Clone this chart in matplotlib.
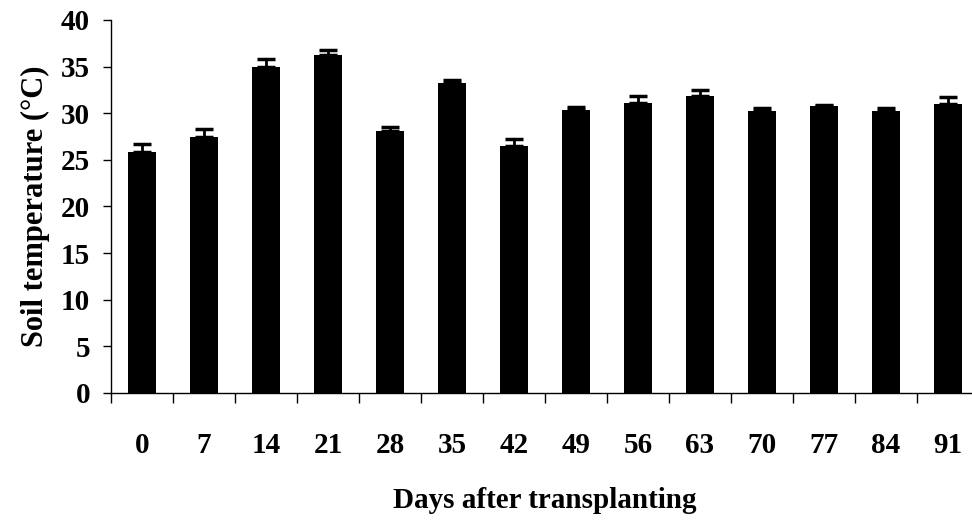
import matplotlib.pyplot as plt
import numpy as np

days = ["0", "7", "14", "21", "28", "35", "42", "49", "56", "63", "70", "77", "84", "91"]
temp = [25.8, 27.4, 35.0, 36.2, 28.1, 33.2, 26.5, 30.3, 31.1, 31.8, 30.2, 30.8, 30.2, 31.0]
err = [0.9, 0.9, 0.8, 0.6, 0.4, 0.4, 0.7, 0.4, 0.7, 0.7, 0.4, 0.1, 0.4, 0.7]

plt.rcParams['font.family'] = ['Liberation Serif', 'DejaVu Serif']

fig = plt.figure(figsize=[9.72, 5.21], dpi=100)
ax = fig.add_axes([0.1142, 0.2457, 0.893, 0.716])

x = np.arange(len(days))
ax.bar(x, temp, width=0.45, color='black')
ax.errorbar(x, temp, yerr=[np.zeros(len(err)), err], fmt='none',
            ecolor='black', elinewidth=2, capsize=6.5, capthick=2.5)

ax.set_xlim(-0.5, len(days) - 0.5)
ax.set_ylim(0, 40)
ax.set_yticks(np.arange(0, 41, 5))
ax.set_xticks(x)
ax.set_xticklabels(days)
ax.set_xticks(np.arange(-0.5, len(days), 1.0), minor=True)

for s in ['top', 'right']:
    ax.spines[s].set_visible(False)
for s in ['left', 'bottom']:
    ax.spines[s].set_linewidth(1.0)

ax.tick_params(axis='x', which='major', length=0, pad=28, labelsize=21)
ax.tick_params(axis='x', which='minor', length=7, direction='out', width=1)
ax.tick_params(axis='y', length=6, direction='out', width=1, pad=9, labelsize=21)
for lab in ax.get_xticklabels() + ax.get_yticklabels():
    lab.set_fontweight('bold')

ax.set_xlabel("Days after transplanting", fontsize=21, fontweight='bold', labelpad=20)
ax.set_ylabel("Soil temperature (°C)", fontsize=22, fontweight='bold', labelpad=8)

fig.savefig("out.png", dpi=100)
